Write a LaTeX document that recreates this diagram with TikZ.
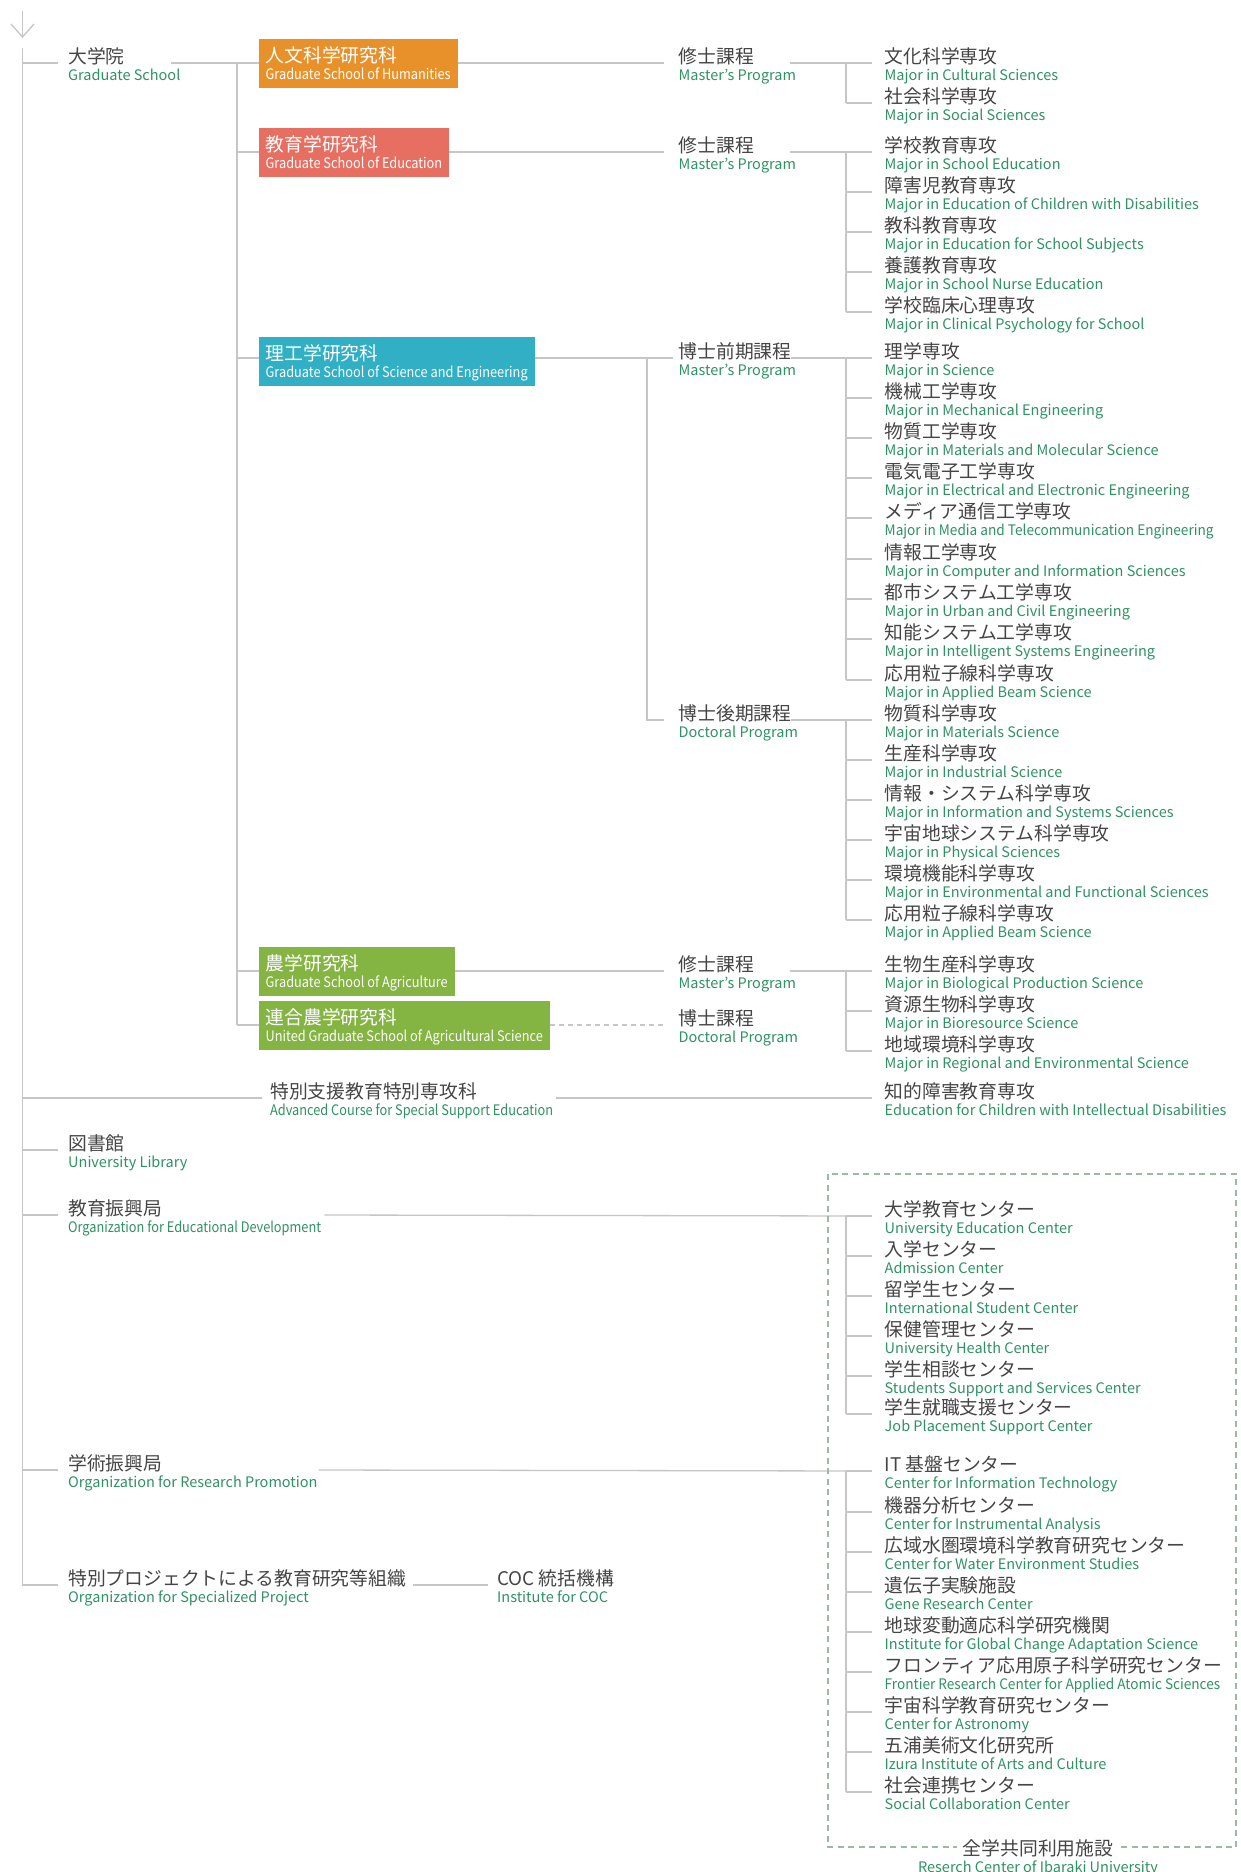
\documentclass[tikz,border=0pt]{standalone}
\usepackage{fontspec}
\setmainfont{Noto Sans CJK JP}
\newfontfamily\condfont[FakeStretch=0.88]{Noto Sans CJK JP}
\newfontfamily\semicondfont[FakeStretch=0.94]{Noto Sans CJK JP}
\usetikzlibrary{positioning,arrows.meta}

\definecolor{lnc}{HTML}{C6C6C6}
\definecolor{jatxt}{HTML}{454545}
\definecolor{entxt}{HTML}{2F9264}
\definecolor{humc}{HTML}{E8912A}
\definecolor{educ}{HTML}{E76F61}
\definecolor{scic}{HTML}{31AFC5}
\definecolor{agrc}{HTML}{84B441}
\definecolor{dashc}{HTML}{9DB8A6}

\newcommand{\jafont}{\fontsize{18.8}{17}\selectfont}
\newcommand{\enfont}{\fontsize{14.5}{17}\selectfont}

\tikzset{
  ln/.style={lnc, line width=1.3pt},
  ja/.style={anchor=base west, inner sep=0pt, text=jatxt, font=\jafont},
  en/.style={anchor=base west, inner sep=0pt, text=entxt, font=\enfont},
  gsbox/.style={anchor=west, inner xsep=7pt, inner ysep=0pt,
    text height=40.5pt, text depth=8.5pt, text=white, align=left, font=\condfont\enfont},
}

\begin{document}
\begin{tikzpicture}[x=1pt,y=-1pt]
    \useasboundingbox[fill=white] (0,0) rectangle (1241,1872);
    \coordinate (trunk) at (22.5,48);
    \coordinate (gsv) at (237,0);
    \coordinate (pv) at (647,0);
    \coordinate (mv) at (846,0);
    % top arrow
    \draw[ln,-{Straight Barb[length=13pt,width=23pt]}] (22.5,11) -- (22.5,38);
    % graduate school boxes
    \node[gsbox, fill=humc] (hum) at (258.5,63.5) {{\rmfamily\jafont 人文科学研究科}\\Graduate School of Humanities};
    \node[gsbox, fill=educ] (edu) at (258.5,152.5) {{\rmfamily\jafont 教育学研究科}\\Graduate School of Education};
    \node[gsbox, fill=scic] (sci) at (258.5,361.5) {{\rmfamily\jafont 理工学研究科}\\Graduate School of Science and Engineering};
    \node[gsbox, fill=agrc] (agr) at (258.5,971.3) {{\rmfamily\jafont 農学研究科}\\Graduate School of Agriculture};
    \node[gsbox, fill=agrc] (uni) at (258.5,1025.3) {{\rmfamily\jafont 連合農学研究科}\\United Graduate School of Agricultural Science};
    % labels
    \foreach \n/\x/\y/\jp/\eng in {
        gs/68/63/大学院/Graduate School,
        ss/270/1098/特別支援教育特別専攻科/{\condfont Advanced Course for Special Support Education},
        lib/68/1150/図書館/University Library,
        oed/68/1215/教育振興局/{\condfont Organization for Educational Development},
        orp/68/1470/学術振興局/Organization for Research Promotion,
        osp/68/1585/特別プロジェクトによる教育研究等組織/Organization for Specialized Project,
        coc/497/1585/COC 統括機構/Institute for COC,
        hum-ms/678.5/63/修士課程/Master's Program,
        edu-ms/678.5/152/修士課程/Master's Program,
        sci-m/678.5/358/博士前期課程/Master's Program,
        sci-d/678.5/720/博士後期課程/Doctoral Program,
        agr-ms/678.5/971/修士課程/Master's Program,
        agr-d/678.5/1025/博士課程/Doctoral Program}{
        \node[ja] (\n) at (\x,\y) {\jp};
        \node[en] (\n-en) at ([yshift=-17pt]\n.base west) {\eng};
    }
    % majors and centres
    \foreach \n/\y/\jp/\eng in {
        hum1/63/文化科学専攻/Major in Cultural Sciences,
        hum2/103/社会科学専攻/Major in Social Sciences,
        edu1/152/学校教育専攻/Major in School Education,
        edu2/192/障害児教育専攻/Major in Education of Children with Disabilities,
        edu3/232/教科教育専攻/Major in Education for School Subjects,
        edu4/272/養護教育専攻/Major in School Nurse Education,
        edu5/312/学校臨床心理専攻/Major in Clinical Psychology for School,
        scim1/358/理学専攻/Major in Science,
        scim2/398/機械工学専攻/Major in Mechanical Engineering,
        scim3/438/物質工学専攻/Major in Materials and Molecular Science,
        scim4/478/電気電子工学専攻/Major in Electrical and Electronic Engineering,
        scim5/518/メディア通信工学専攻/{\semicondfont Major in Media and Telecommunication Engineering},
        scim6/559/情報工学専攻/Major in Computer and Information Sciences,
        scim7/599/都市システム工学専攻/Major in Urban and Civil Engineering,
        scim8/639/知能システム工学専攻/Major in Intelligent Systems Engineering,
        scim9/680/応用粒子線科学専攻/Major in Applied Beam Science,
        scid1/720/物質科学専攻/Major in Materials Science,
        scid2/760/生産科学専攻/Major in Industrial Science,
        scid3/800/情報・システム科学専攻/Major in Information and Systems Sciences,
        scid4/840/宇宙地球システム科学専攻/Major in Physical Sciences,
        scid5/880/環境機能科学専攻/Major in Environmental and Functional Sciences,
        scid6/920/応用粒子線科学専攻/Major in Applied Beam Science,
        agr1/971/生物生産科学専攻/Major in Biological Production Science,
        agr2/1011/資源生物科学専攻/Major in Bioresource Science,
        agr3/1051/地域環境科学専攻/Major in Regional and Environmental Science,
        spc/1098/知的障害教育専攻/Education for Children with Intellectual Disabilities,
        ctr1/1216/大学教育センター/University Education Center,
        ctr2/1256/入学センター/Admission Center,
        ctr3/1296/留学生センター/International Student Center,
        ctr4/1336/保健管理センター/University Health Center,
        ctr5/1376/学生相談センター/Students Support and Services Center,
        ctr6/1414/学生就職支援センター/Job Placement Support Center,
        res1/1471/IT 基盤センター/Center for Information Technology,
        res2/1512/機器分析センター/Center for Instrumental Analysis,
        res3/1552/広域水圏環境科学教育研究センター/Center for Water Environment Studies,
        res4/1592/遺伝子実験施設/Gene Research Center,
        res5/1632/地球変動適応科学研究機関/Institute for Global Change Adaptation Science,
        res6/1672/フロンティア応用原子科学研究センター/{\semicondfont Frontier Research Center for Applied Atomic Sciences},
        res7/1712/宇宙科学教育研究センター/Center for Astronomy,
        res8/1752/五浦美術文化研究所/Izura Institute of Arts and Culture,
        res9/1792/社会連携センター/Social Collaboration Center}{
        \node[ja] (\n) at (884.5,\y) {\jp};
        \node[en] (\n-en) at ([yshift=-17pt]\n.base west) {\eng};
        \draw[ln] (mv |- \n.base) -- ([xshift=-13pt]\n.base west);
    }
    \draw[ln] (mv |- hum1.base) -- (mv |- hum2.base);
    \draw[ln] (mv |- edu1.base) -- (mv |- edu5.base);
    \draw[ln] (mv |- scim1.base) -- (mv |- scim9.base);
    \draw[ln] (mv |- scid1.base) -- (mv |- scid6.base);
    \draw[ln] (mv |- agr1.base) -- (mv |- agr3.base);
    \draw[ln] (mv |- ctr1.base) -- (mv |- ctr6.base);
    \draw[ln] (mv |- res1.base) -- (mv |- res9.base);
    % trunk
    \draw[ln] (trunk) -- (trunk |- osp.base) -- ([xshift=-10pt]osp.base west);
    \foreach \n in {gs,lib,oed,orp}
        \draw[ln] (trunk |- \n.base) -- ([xshift=-10pt]\n.base west);
    \draw[ln] (trunk |- ss.base) -- ([xshift=-8pt]ss.base west);
    % graduate school
    \draw[ln] (gs-en.east |- gs.base) ++(-10,0) -- (gsv |- gs.base) -- (gsv |- agr-d.base);
    \foreach \b/\p/\g in {hum/hum-ms/15, edu/edu-ms/15, sci/sci-m/6, agr/agr-ms/15}{
        \draw[ln] (gsv |- \p.base) -- (\b.west |- \p.base);
        \draw[ln] (\b.east |- \p.base) -- ([xshift=-\g pt]\p.base west);
    }
    \draw[ln] (gsv |- agr-d.base) -- (uni.west |- agr-d.base);
    \draw[ln, dash pattern=on 5pt off 4pt] (uni.east |- agr-d.base) -- ([xshift=-15pt]agr-d.base west);
    \draw[ln] (pv |- sci-m.base) -- (pv |- sci-d.base) -- ([xshift=-15pt]sci-d.base west);
    % programs to majors
    \draw[ln] (hum-ms-en.east |- hum-ms.base) ++(-6,0) -- ([xshift=-13pt]hum1.base west);
    \draw[ln] (edu-ms-en.east |- edu-ms.base) ++(-6,0) -- ([xshift=-13pt]edu1.base west);
    \draw[ln] (sci-m.east |- sci-m.base) ++(-1,0) -- ([xshift=-13pt]scim1.base west);
    \draw[ln] (sci-d.east |- sci-d.base) ++(-1,0) -- ([xshift=-13pt]scid1.base west);
    \draw[ln] (agr-ms-en.east |- agr-ms.base) ++(-6,0) -- ([xshift=-13pt]agr1.base west);
    \draw[ln] (ss-en.east |- ss.base) ++(3,0) -- ([xshift=-13pt]spc.base west);
    \draw[ln] (oed-en.east |- oed.base) ++(3,0) -- ([xshift=-13pt]ctr1.base west);
    \draw[ln] (orp-en.east |- orp.base) ++(1,0) -- ([xshift=-13pt]res1.base west);
    \draw[ln] (osp.east |- osp.base) ++(7,0) -- ([xshift=-9pt]coc.base west);
    % shared facilities frame
    \draw[dashc, line width=1.3pt, dash pattern=on 6pt off 4.5pt] (828,1174) rectangle (1236,1847);
    \node[ja, anchor=base, fill=white, inner xsep=6pt, inner ysep=2pt] (shared) at (1038,1855) {全学共同利用施設};
    \node[en, anchor=base] (shared-en) at ([yshift=-17pt]shared.base) {Reserch Center of Ibaraki University};
\end{tikzpicture}
\end{document}
